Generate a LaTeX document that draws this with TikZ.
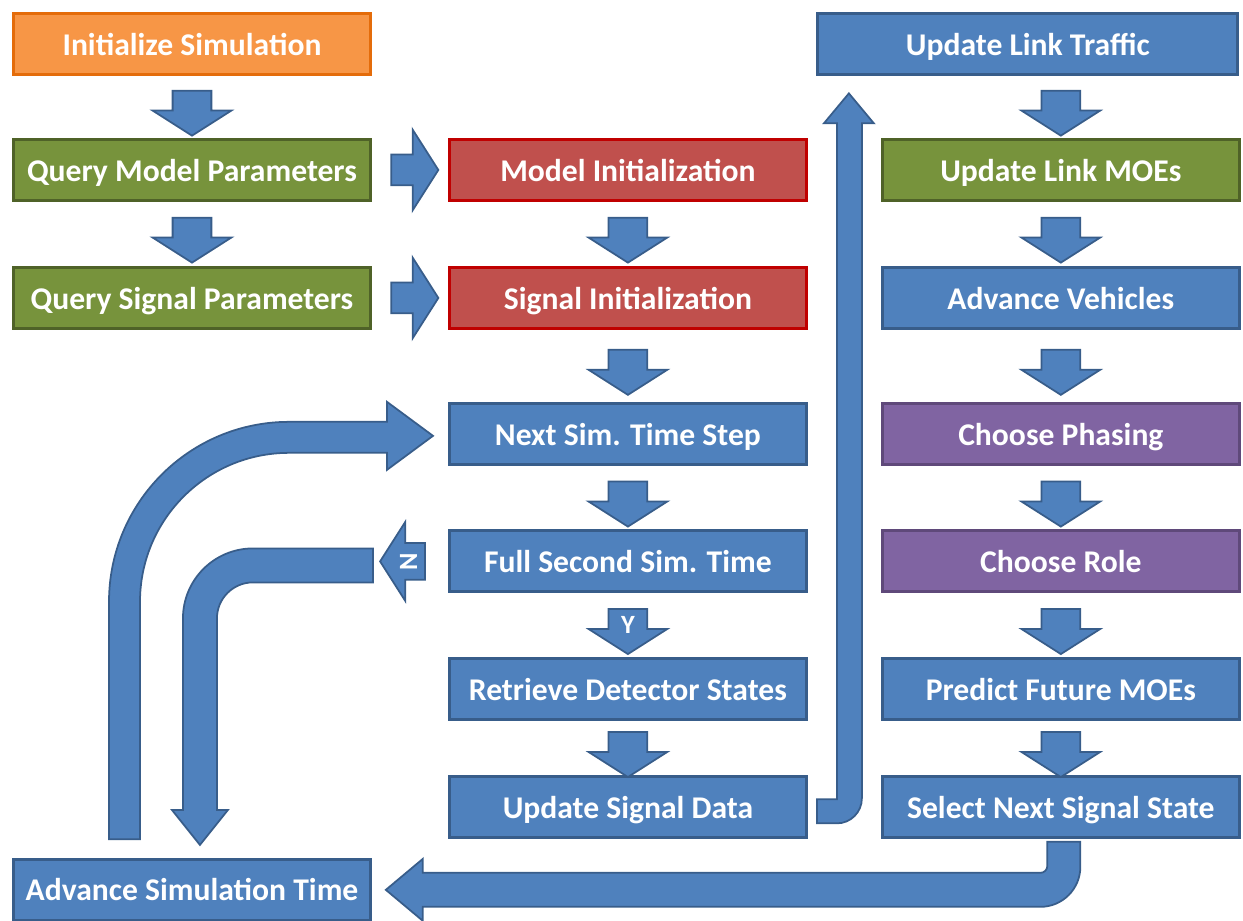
\documentclass[tikz,border=0pt]{standalone}
\usepackage{fontspec}
\setmainfont{Carlito}
\usetikzlibrary{positioning,shapes.arrows,calc}

\definecolor{blufill}{HTML}{4F81BD}
\definecolor{bluline}{HTML}{385D8A}
\definecolor{grnfill}{HTML}{77933C}
\definecolor{grnline}{HTML}{4F6228}
\definecolor{redfill}{HTML}{C0504D}
\definecolor{redline}{HTML}{C00000}
\definecolor{purfill}{HTML}{8064A2}
\definecolor{purline}{HTML}{5F497A}
\definecolor{orgfill}{HTML}{F79646}
\definecolor{orgline}{HTML}{E46C0A}

\begin{document}
\begin{tikzpicture}[
  x=0.02cm, y=0.02cm,
  box/.style={draw, line width=1.7pt, minimum width=7.14cm, minimum height=1.22cm, inner sep=0pt, outer sep=0pt, text depth=0pt, text=white, font=\bfseries\fontsize{18}{20}\selectfont},
  bluebox/.style={box, fill=blufill, draw=bluline},
  greenbox/.style={box, fill=grnfill, draw=grnline},
  redbox/.style={box, fill=redfill, draw=redline},
  purplebox/.style={box, fill=purfill, draw=purline},
  orangebox/.style={box, fill=orgfill, draw=orgline},
  sarr/.style={single arrow, draw=bluline, fill=blufill, line width=1pt, outer sep=0pt, minimum height=0.9cm, minimum width=1.56cm, single arrow tip angle=115, text=white, font=\bfseries\fontsize{15}{15}\selectfont},
  darr/.style={sarr, shape border rotate=270, inner xsep=0.37cm, inner ysep=0pt, single arrow head extend=0.4cm},
  rarr/.style={sarr, minimum height=0.94cm, inner xsep=0pt, inner ysep=0.29cm, single arrow head extend=0.5cm},
  larr/.style={sarr, rotate=90, shape border rotate=90, inner xsep=0.35cm, inner ysep=0pt, single arrow head extend=0.42cm},
  bigarr/.style={draw=bluline, fill=blufill, line width=1pt}
]
  \useasboundingbox (0,0) rectangle (1243,-920);

  % Left column
  \node[orangebox] (init) at (192,-44) {Initialize Simulation};
  \node[greenbox, below=1.3cm of init] (qmp) {Query Model Parameters};
  \node[greenbox, below=1.34cm of qmp] (qsp) {Query Signal Parameters};
  \node[bluebox, below=10.62cm of qsp] (ast) {Advance Simulation Time};

  % Middle column
  \node[redbox, right=1.58cm of qmp] (mi) {Model Initialization};
  \node[redbox, right=1.58cm of qsp] (si) {Signal Initialization};
  \node[bluebox, below=1.51cm of si] (nts) {Next Sim. Time Step};
  \node[bluebox, below=1.32cm of nts] (fst) {Full Second Sim. Time};
  \node[bluebox, below=1.34cm of fst] (rds) {Retrieve Detector States};
  \node[bluebox, below=1.14cm of rds] (usd) {Update Signal Data};

  % Right column
  \node[greenbox, right=1.52cm of mi] (ulm) {Update Link MOEs};
  \node[bluebox, above=1.3cm of ulm, xshift=-0.66cm, minimum width=8.4cm] (ult) {Update Link Traffic};
  \node[bluebox, right=1.52cm of si] (av) {Advance Vehicles};
  \node[purplebox, right=1.52cm of nts] (cp) {Choose Phasing};
  \node[purplebox, right=1.52cm of fst] (cr) {Choose Role};
  \node[bluebox, right=1.52cm of rds] (pfm) {Predict Future MOEs};
  \node[bluebox, right=1.52cm of usd] (snss) {Select Next Signal State};

  % Straight block arrows
  \node[darr] (a1) at ($(init.south)!0.5!(qmp.north)$) {};
  \node[darr] (a2) at ($(qmp.south)!0.5!(qsp.north)$) {};
  \node[rarr] (a3) at ($(qmp.east)!0.5!(mi.west)$) {};
  \node[rarr] (a4) at ($(qsp.east)!0.5!(si.west)$) {};
  \node[darr] (a5) at ($(mi.south)!0.5!(si.north)$) {};
  \node[darr] (a6) at ($(si.south)!0.5!(nts.north)$) {};
  \node[darr] (a7) at ($(nts.south)!0.5!(fst.north)$) {};
  \node[darr] (yes) at ($(fst.south)!0.5!(rds.north)$) {\makebox[0pt]{Y}};
  \node[darr] (a8) at ($(rds.south)!0.5!(usd.north)$) {};
  \node[larr] (no) at ($(fst.west)+(-41,0)$) {\makebox[0pt]{N}};

  \node[darr] (a9) at ($(ult.south -| ulm.north)!0.5!(ulm.north)$) {};
  \node[darr] (a10) at ($(ulm.south)!0.5!(av.north)$) {};
  \node[darr] (a11) at ($(av.south)!0.5!(cp.north)$) {};
  \node[darr] (a12) at ($(cp.south)!0.5!(cr.north)$) {};
  \node[darr] (a13) at ($(cr.south)!0.5!(pfm.north)$) {};
  \node[darr] (a14) at ($(pfm.south)!0.5!(snss.north)$) {};

  % Bent block arrows
  % signal data up to link traffic
  \draw[bigarr] ($(usd.east)+(10.5,8)$) -- ++(20,0) -- ++(0,676) -- ++(-13,0) -- ++(25,30)
    -- ++(25,-30) -- ++(-12,0) -- ++(0,-675) arc[start angle=0, end angle=-90, radius=25]
    -- ++(-20,0) -- cycle;
  % next signal state back to simulation time
  \draw[bigarr] ($(snss.south)+(-13.5,-4)$) -- ++(33,0) -- ++(0,-25) arc[start angle=0, end angle=-90, radius=40]
    -- ++(-617.5,0) -- ++(0,-14) -- ++(-37,31) -- ++(37,31) -- ++(0,-14) -- ++(617.5,0)
    arc[start angle=-90, end angle=0, radius=7] -- cycle;
  % simulation time up to next time step
  \draw[bigarr] ($(ast.north)+(-83,20)$) -- ++(31,0) -- ++(0,237.5) arc[start angle=180, end angle=90, radius=149]
    -- ++(98,0) -- ++(0,-17) -- ++(46,34) -- ++(-46,34) -- ++(0,-20) -- ++(-98,0)
    arc[start angle=90, end angle=180, radius=180] -- cycle;
  % "N" branch down to simulation time
  \draw[bigarr] ($(fst.west)+(-76.5,13)$) -- ++(-120,0) arc[start angle=90, end angle=180, radius=70]
    -- ++(0,-191.5) -- ++(-11,0) -- ++(28,-35) -- ++(28,35) -- ++(-11,0) -- ++(0,191.5)
    arc[start angle=180, end angle=90, radius=36] -- ++(120,0) -- cycle;

\end{tikzpicture}
\end{document}
